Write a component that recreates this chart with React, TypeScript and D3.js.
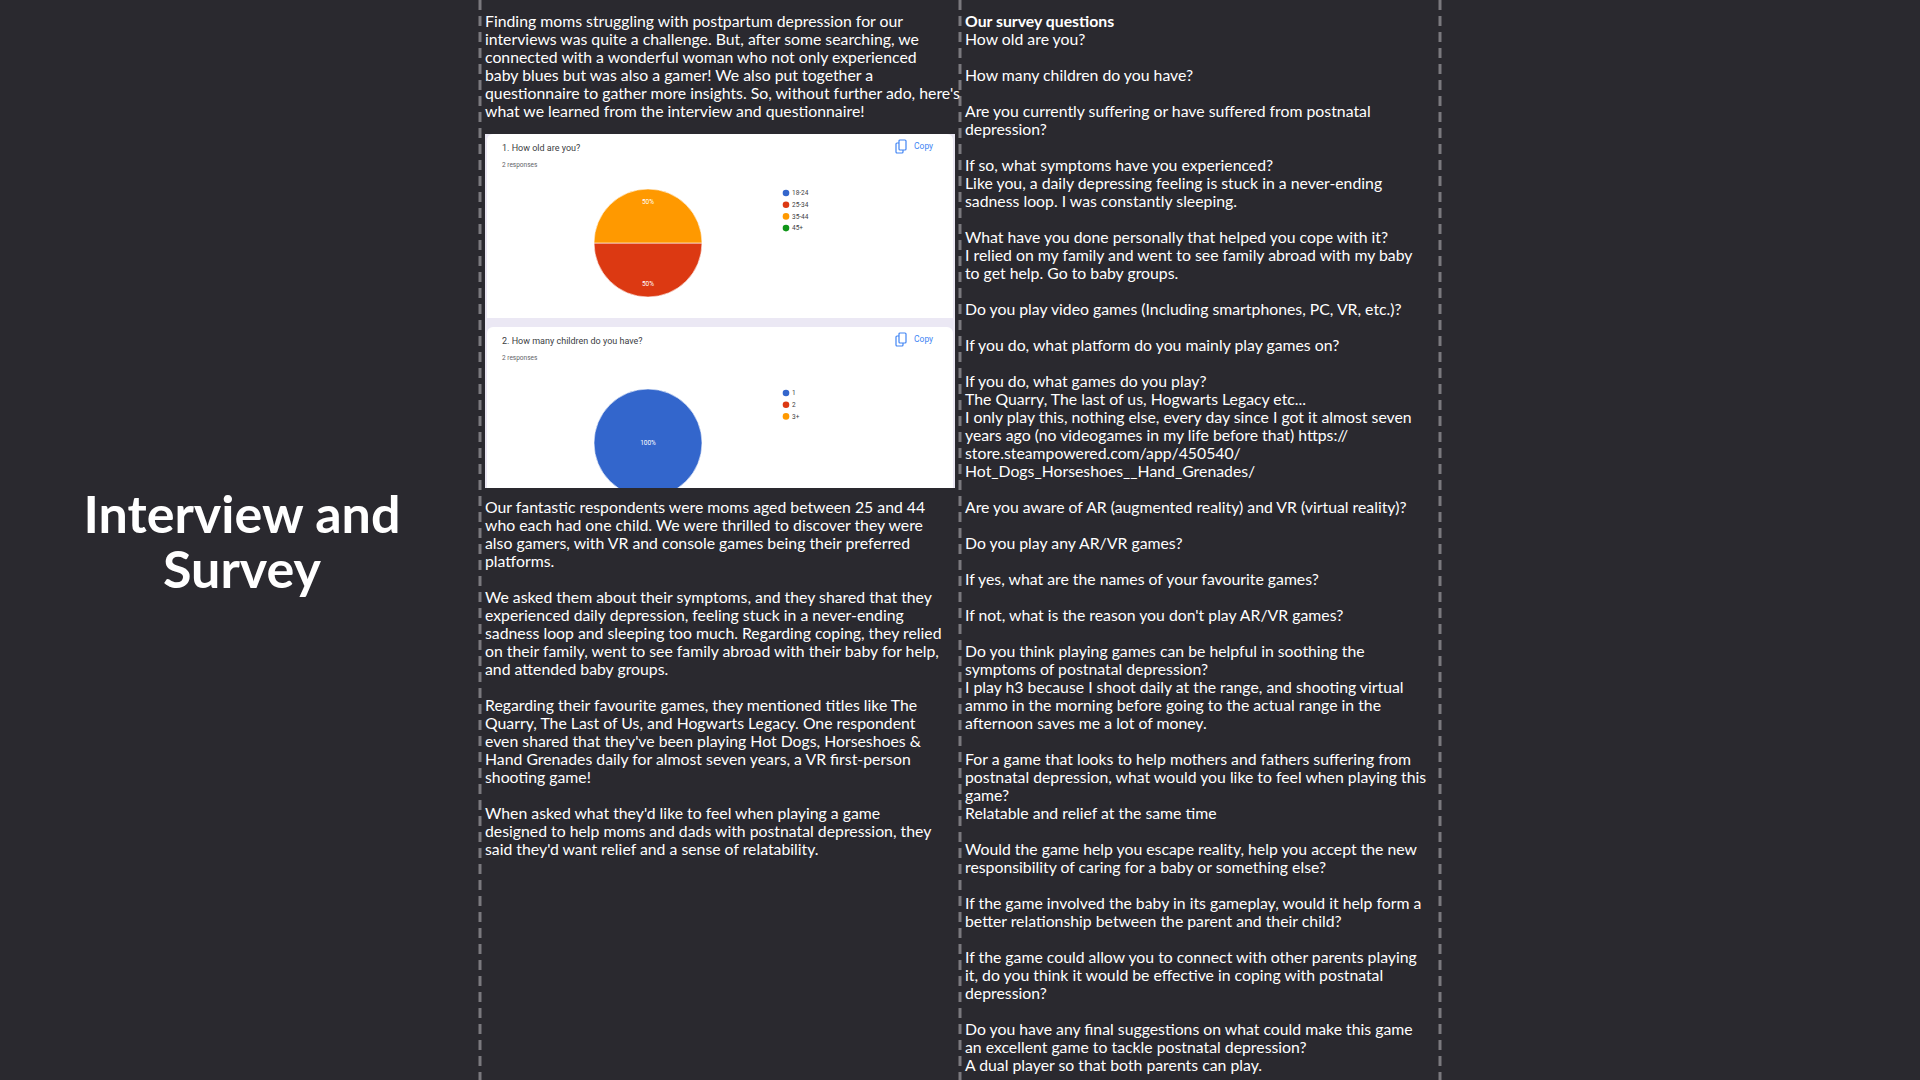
import React from 'react';
import * as d3 from 'd3';

const ageLabels = ['18-24', '25-34', '35-44', '45+'];
const ageValues = [0, 1, 1, 0];
const childLabels = ['1', '2', '3+'];
const childValues = [2, 0, 0];
const sliceColors = ['#3366cc', '#dc3912', '#ff9900', '#109618'];

const introLines = [
  'Finding moms struggling with postpartum depression for our',
  'interviews was quite a challenge. But, after some searching, we',
  'connected with a wonderful woman who not only experienced',
  'baby blues but was also a gamer! We also put together a',
  "questionnaire to gather more insights. So, without further ado, here's",
  'what we learned from the interview and questionnaire!',
];

const summaryLines = [
  'Our fantastic respondents were moms aged between 25 and 44',
  'who each had one child. We were thrilled to discover they were',
  'also gamers, with VR and console games being their preferred',
  'platforms.',
  '',
  'We asked them about their symptoms, and they shared that they',
  'experienced daily depression, feeling stuck in a never-ending',
  'sadness loop and sleeping too much. Regarding coping, they relied',
  'on their family, went to see family abroad with their baby for help,',
  'and attended baby groups.',
  '',
  'Regarding their favourite games, they mentioned titles like The',
  'Quarry, The Last of Us, and Hogwarts Legacy. One respondent',
  "even shared that they've been playing Hot Dogs, Horseshoes &",
  'Hand Grenades daily for almost seven years, a VR first-person',
  'shooting game!',
  '',
  "When asked what they'd like to feel when playing a game",
  'designed to help moms and dads with postnatal depression, they',
  "said they'd want relief and a sense of relatability.",
];

const questionLines = [
  'How old are you?', '',
  'How many children do you have?', '',
  'Are you currently suffering or have suffered from postnatal',
  'depression?', '',
  'If so, what symptoms have you experienced?',
  'Like you, a daily depressing feeling is stuck in a never-ending',
  'sadness loop. I was constantly sleeping.', '',
  'What have you done personally that helped you cope with it?',
  'I relied on my family and went to see family abroad with my baby',
  'to get help. Go to baby groups.', '',
  'Do you play video games (Including smartphones, PC, VR, etc.)?', '',
  'If you do, what platform do you mainly play games on?', '',
  'If you do, what games do you play?',
  'The Quarry, The last of us, Hogwarts Legacy etc...',
  'I only play this, nothing else, every day since I got it almost seven',
  'years ago (no videogames in my life before that) https://',
  'store.steampowered.com/app/450540/',
  'Hot_Dogs_Horseshoes__Hand_Grenades/', '',
  'Are you aware of AR (augmented reality) and VR (virtual reality)?', '',
  'Do you play any AR/VR games?', '',
  'If yes, what are the names of your favourite games?', '',
  "If not, what is the reason you don't play AR/VR games?", '',
  'Do you think playing games can be helpful in soothing the',
  'symptoms of postnatal depression?',
  'I play h3 because I shoot daily at the range, and shooting virtual',
  'ammo in the morning before going to the actual range in the',
  'afternoon saves me a lot of money.', '',
  'For a game that looks to help mothers and fathers suffering from',
  'postnatal depression, what would you like to feel when playing this',
  'game?',
  'Relatable and relief at the same time', '',
  'Would the game help you escape reality, help you accept the new',
  'responsibility of caring for a baby or something else?', '',
  'If the game involved the baby in its gameplay, would it help form a',
  'better relationship between the parent and their child?', '',
  'If the game could allow you to connect with other parents playing',
  'it, do you think it would be effective in coping with postnatal',
  'depression?', '',
  'Do you have any final suggestions on what could make this game',
  'an excellent game to tackle postnatal depression?',
  'A dual player so that both parents can play.',
];

const W = 1920;
const H = 1080;
const FONT = 'Lato, "Open Sans", sans-serif';
const lineY = d3.scaleLinear().domain([0, 1]).range([27, 45]);

const pieGen = d3.pie<number>().sort(null).value(d => d)
  .startAngle(Math.PI / 2).endAngle(Math.PI / 2 + 2 * Math.PI);

function PieCard({ id, y, h, title, labels, values, r, cy }: any) {
  const arc = d3.arc<d3.PieArcDatum<number>>().innerRadius(0).outerRadius(r);
  const labelArc = d3.arc<d3.PieArcDatum<number>>().innerRadius(r * 0.76).outerRadius(r * 0.76);
  const total = d3.sum(values as number[]);
  const arcs = pieGen(values).filter(a => a.value > 0);
  return (
    <g transform={`translate(485,${y})`}>
      <clipPath id={id}><rect x={0} y={0} width={470} height={h} /></clipPath>
      <g clipPath={`url(#${id})`}>
        <rect x={2} y={0} width={466} height={h + 8} rx={6} fill="#fff" />
        <text x={17} y={17} fontFamily="Roboto" fontSize={9} fill="#3c4043">{title}</text>
        <text x={17} y={33} fontFamily="Roboto" fontSize={6.5} fill="#5f6368">2 responses</text>
        <g transform="translate(411,6)" fill="none" stroke="#4285f4" strokeWidth={1.2}>
          <rect x={0} y={3} width={7} height={10} rx={1} />
          <rect x={3} y={0} width={7} height={10} rx={1} fill="#fff" />
        </g>
        <text x={429} y={15} fontFamily="Roboto" fontSize={8.5} fill="#4285f4">Copy</text>
        <g transform={`translate(163,${cy})`}>
          {arcs.map((a, i) => (
            <path key={i} d={arc(a) || ''} fill={sliceColors[a.index]} stroke="#fff" strokeWidth={0.6} />
          ))}
          {arcs.map((a, i) => {
            const [lx, ly] = arcs.length === 1 ? [0, 0] : labelArc.centroid(a);
            return (
              <text key={'t' + i} x={lx} y={ly} dy="0.35em" textAnchor="middle" fontFamily="Roboto" fontSize={6.5} fill="#fff">
                {d3.format('.0%')(a.value / total)}
              </text>
            );
          })}
        </g>
        {labels.map((l: string, i: number) => (
          <g key={l} transform={`translate(301,${cy - 50 + i * 11.7})`}>
            <circle r={3.3} fill={sliceColors[i]} />
            <text x={6} dy="0.35em" fontFamily="Roboto" fontSize={6.5} fill="#3c4043">{l}</text>
          </g>
        ))}
      </g>
    </g>
  );
}

export default function App() {
  return (
    <svg width={W} height={H} style={{ display: 'block', position: 'fixed', left: 0, top: 0 }}>
      <rect width={W} height={H} fill="#2a292f" />
      {[480, 960, 1440].map(x => (
        <line key={x} x1={x} x2={x} y1={0} y2={H} stroke="#7a797e" strokeWidth={3} strokeDasharray="10 6" />
      ))}
      <text textAnchor="middle" fontFamily={FONT} fontWeight={700} fontSize={52} fill="#fff">
        <tspan x={242} y={533}>Interview and</tspan>
        <tspan x={242} y={588}>Survey</tspan>
      </text>
      <g fontFamily={FONT} fontSize={15.8} fill="#fff">
        {introLines.map((l, i) => (
          <text key={'a' + i} x={485} y={lineY(i)}>{l}</text>
        ))}
        {summaryLines.map((l, i) => (
          <text key={'b' + i} x={485} y={lineY(i + 27)}>{l}</text>
        ))}
        <text x={965} y={lineY(0)} fontWeight={700}>Our survey questions</text>
        {questionLines.map((l, i) => (
          <text key={'c' + i} x={965} y={lineY(i + 1)}>{l}</text>
        ))}
      </g>
      <rect x={485} y={134} width={470} height={354} fill="#ebe8f4" />
      <PieCard id="c1" y={134} h={184} title="1. How old are you?" labels={ageLabels} values={ageValues} r={54} cy={109} />
      <PieCard id="c2" y={327} h={161} title="2. How many children do you have?" labels={childLabels} values={childValues} r={54} cy={116} />
    </svg>
  );
}
